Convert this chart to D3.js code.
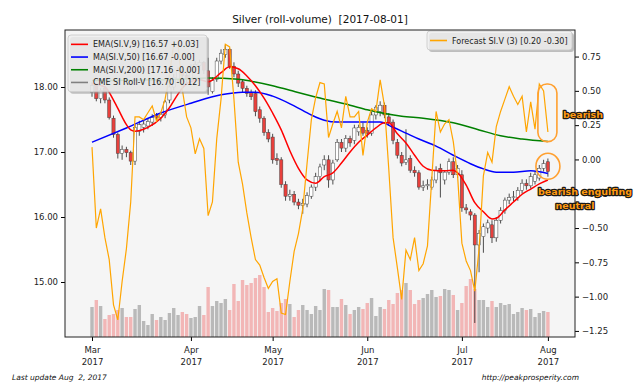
<!DOCTYPE html>
<html>
<head>
<meta charset="utf-8">
<script src="https://cdn.jsdelivr.net/npm/d3@7"></script>
<style>
  body { margin: 0; background: #fff; }
  svg { display: block; }
  text { font-family: "DejaVu Sans", sans-serif; }
</style>
</head>
<body>
<svg id="chart" width="640" height="384"></svg>
<script>
// month ticks sit on the trading-day index of the first session of each month
const monthLabels = ["Mar", "Apr", "May", "Jun", "Jul", "Aug"];
const monthIdx = [0, 23, 42, 64, 86, 106];

// daily candles, one per trading day (Mar 1 .. Aug 1 2017)
const opens = [17.92,18.02,17.82,17.98,17.80,17.52,17.27,16.98,17.04,16.99,
  16.86,17.32,17.38,17.40,17.46,17.56,17.53,17.57,17.80,18.00,
  18.12,18.25,18.18,18.12,18.30,18.33,18.38,18.25,17.93,18.12,
  18.40,18.50,18.58,18.32,18.20,18.08,17.98,17.92,17.90,17.65,
  17.52,17.30,17.23,16.90,16.88,16.50,16.32,16.35,16.23,16.18,
  16.20,16.32,16.46,16.62,16.80,16.88,16.57,16.88,17.15,17.06,
  17.21,17.18,17.31,17.38,17.33,17.29,17.57,17.62,17.72,17.54,
  17.46,17.15,16.95,16.84,16.90,16.72,16.68,16.46,16.48,16.46,
  16.57,16.75,16.57,16.69,16.85,16.65,16.65,16.14,16.08,16.03,
  15.57,15.70,15.83,15.88,15.68,15.95,16.10,16.26,16.30,16.30,
  16.41,16.52,16.48,16.55,16.60,16.75,16.85];
const highs = [18.08,18.05,17.98,18.02,17.84,17.56,17.30,17.10,17.08,17.02,
  17.42,17.48,17.50,17.52,17.58,17.60,17.62,17.80,18.05,18.20,
  18.30,18.30,18.25,18.35,18.40,18.42,18.40,18.45,18.15,18.45,
  18.58,18.65,18.60,18.38,18.25,18.12,18.02,17.96,17.95,17.70,
  17.55,17.35,17.28,16.98,16.92,16.55,16.42,16.40,16.28,16.28,
  16.38,16.50,16.68,16.82,16.95,16.95,16.88,17.20,17.20,17.26,
  17.25,17.42,17.42,17.45,17.38,17.62,17.72,17.78,17.76,17.60,
  17.50,17.20,17.00,17.35,16.95,16.78,16.72,16.56,16.58,16.62,
  16.78,16.82,16.72,16.90,16.92,16.80,16.72,16.20,16.12,16.06,
  15.80,15.90,15.96,15.95,16.00,16.15,16.30,16.36,16.40,16.46,
  16.58,16.58,16.68,16.70,16.80,16.88,16.90];
const lows = [17.85,17.78,17.75,17.75,17.50,17.22,16.90,16.88,16.92,16.80,
  16.80,17.25,17.30,17.35,17.40,17.48,17.47,17.52,17.75,17.95,
  18.08,18.10,18.05,18.10,18.22,18.25,18.20,17.88,17.90,18.08,
  18.35,18.45,18.28,18.15,18.00,17.92,17.85,17.80,17.55,17.45,
  17.25,17.15,16.82,16.80,16.45,16.25,16.25,16.18,16.12,16.05,
  16.15,16.28,16.40,16.55,16.72,16.45,16.50,16.85,17.00,17.00,
  17.08,17.12,17.25,17.25,17.22,17.25,17.50,17.55,17.52,17.40,
  17.12,16.90,16.78,16.80,16.68,16.62,16.42,16.40,16.42,16.42,
  16.52,16.30,16.50,16.65,16.60,16.60,16.08,16.05,15.95,14.37,
  15.15,15.45,15.75,15.60,15.62,15.90,16.05,16.20,16.24,16.25,
  16.36,16.42,16.44,16.50,16.56,16.70,16.62];
const closes = [18.02,17.82,17.95,17.80,17.53,17.27,16.98,17.04,16.99,16.86,
  17.38,17.42,17.43,17.47,17.53,17.53,17.58,17.77,18.00,18.15,
  18.25,18.18,18.12,18.30,18.35,18.38,18.26,18.00,18.10,18.40,
  18.52,18.58,18.32,18.20,18.06,17.98,17.90,17.85,17.62,17.52,
  17.30,17.20,16.88,16.87,16.50,16.32,16.35,16.23,16.18,16.21,
  16.33,16.46,16.62,16.77,16.88,16.57,16.83,17.15,17.06,17.21,
  17.14,17.37,17.38,17.29,17.29,17.57,17.69,17.72,17.57,17.45,
  17.18,16.95,16.83,16.88,16.72,16.68,16.46,16.48,16.50,16.57,
  16.72,16.68,16.69,16.85,16.65,16.75,16.14,16.11,16.03,15.57,
  15.75,15.85,15.91,15.68,15.95,16.10,16.26,16.30,16.31,16.41,
  16.52,16.48,16.62,16.65,16.75,16.82,16.70];

// volume, thousands of contracts
const volume = [60,74,62,36,44,46,54,58,40,40,
  56,64,32,24,46,34,40,34,48,58,
  44,50,46,38,40,62,44,100,62,72,
  68,76,54,106,72,114,104,108,118,124,
  100,50,58,52,68,76,66,40,54,64,
  54,46,62,54,96,94,60,60,76,64,
  46,54,60,56,68,78,42,60,56,74,
  66,88,94,108,94,66,74,78,86,94,
  80,82,96,94,84,54,68,102,116,96,
  74,74,60,72,60,68,64,66,46,50,
  58,54,56,40,48,52,50];

// forecast oscillator (right axis)
const forecast = [0.09,-0.50,-0.36,-0.57,-0.73,-1.06,-1.17,-0.89,-0.65,-0.31,
  0.31,0.31,0.29,0.34,0.39,0.28,0.34,0.44,0.62,0.84,
  0.84,0.51,0.31,0.23,0.04,0.15,0.08,-0.41,-0.31,0.15,
  0.44,0.84,0.82,0.44,-0.02,-0.18,-0.39,-0.57,-0.73,-0.77,
  -0.86,-0.94,-0.89,-0.87,-1.12,-1.13,-0.89,-0.67,-0.54,-0.36,
  -0.03,0.29,0.45,0.56,0.55,0.16,0.26,0.35,0.23,0.46,
  0.31,0.31,0.35,0.03,0.27,0.37,0.35,0.58,0.39,-0.07,
  -0.57,-0.79,-1.02,-0.66,-0.73,-0.57,-0.81,-0.76,-0.63,-0.14,
  0.35,0.20,0.26,0.29,0.13,-0.12,-0.61,-0.74,-0.81,-0.96,
  -0.65,-0.12,0.05,-0.02,0.24,0.35,0.44,0.53,0.46,0.40,
  0.46,0.20,0.42,0.22,0.55,0.50,0.20];

// moving averages as [day index, price]
const ema9 = [[0,18.05],[3,18.0],[5,17.8],[7,17.54],[8,17.42],[9,17.34],[10,17.32],[12,17.35],
  [13,17.38],[16,17.52],[18,17.68],[20,17.89],[22,18.05],[25,18.11],[27,18.08],[30,18.22],
  [32,18.31],[34,18.28],[36,18.17],[38,18.02],[40,17.83],[42,17.6],[44,17.34],[46,17.02],
  [48,16.75],[50,16.57],[52,16.52],[54,16.62],[56,16.68],[58,16.83],[60,17.0],[62,17.15],
  [64,17.26],[66,17.37],[68,17.45],[69,17.45],[71,17.28],[73,17.14],[75,16.95],[77,16.78],
  [79,16.72],[82,16.71],[84,16.72],[85,16.68],[87,16.49],[89,16.22],[91,16.08],[93,15.97],
  [94,15.98],[96,16.11],[98,16.23],[100,16.35],[102,16.43],[104,16.51],[106,16.57]];
const ma50 = [[0,17.15],[8,17.37],[16,17.6],[23,17.75],[30,17.88],[35,17.92],[38,17.92],
  [42,17.86],[47,17.71],[51,17.57],[54,17.49],[57,17.46],[62,17.46],[67,17.46],[70,17.38],
  [73,17.29],[76,17.2],[80,17.09],[84,16.95],[88,16.82],[91,16.74],[94,16.69],[98,16.69],
  [102,16.71],[106,16.67]];
const ma200 = [[0,18.1],[20,18.12],[27,18.14],[34,18.12],[37,18.09],[42,18.02],[46,17.95],
  [53,17.83],[60,17.72],[64,17.65],[72,17.55],[77,17.52],[84,17.45],[90,17.34],[95,17.25],
  [100,17.2],[106,17.16]];

const leftLegend = [
  { label: "EMA(SI.V,9) [16.57 +0.03]", color: "#ff0000" },
  { label: "MA(SI.V,50) [16.67 -0.00]", color: "#0000ff" },
  { label: "MA(SI.V,200) [17.16 -0.00]", color: "#008000" },
  { label: "CME SI Roll-V [16.70 -0.12]", color: "#808080" }
];
const rightLegend = [{ label: "Forecast SI.V (3) [0.20 -0.30]", color: "#ffa500" }];

const svg = d3.select("#chart");
const L = 65, R = 575, T = 30, B = 337;

const x = d3.scaleLinear().domain([-6.28, 112.3]).range([L, R]);
const y = d3.scaleLinear().domain([14.154, 18.877]).range([B, T]);
const yF = d3.scaleLinear().domain([-1.2943, 0.9436]).range([B, T]);
const yV = d3.scaleLinear().domain([0, 614]).range([B, T]);

svg.append("text").attr("x", 320).attr("y", 23).attr("text-anchor", "middle")
  .attr("font-size", 10.5).attr("fill", "#111")
  .text("Silver (roll-volume)\u00a0 [2017-08-01]");

svg.append("rect").attr("x", L).attr("y", T).attr("width", R - L).attr("height", B - T)
  .attr("fill", "#f5f5f5");

svg.append("clipPath").attr("id", "plot")
  .append("rect").attr("x", L).attr("y", T).attr("width", R - L).attr("height", B - T);

const plot = svg.append("g").attr("clip-path", "url(#plot)");

const days = d3.range(opens.length);

// volume bars
plot.append("g").selectAll("rect").data(days).join("rect")
  .attr("x", i => x(i) - 1.7)
  .attr("width", 3.4)
  .attr("y", i => yV(volume[i]))
  .attr("height", i => yV(0) - yV(volume[i]))
  .attr("fill", i => closes[i] < opens[i] ? "#f2b6b6" : "#b9b9b9");

// candles
const candle = plot.append("g").selectAll("g").data(days).join("g");
candle.append("line")
  .attr("x1", i => x(i)).attr("x2", i => x(i))
  .attr("y1", i => y(highs[i])).attr("y2", i => y(lows[i]))
  .attr("stroke", "#222").attr("stroke-width", 0.8);
candle.append("rect")
  .attr("x", i => x(i) - 1.6)
  .attr("width", 3.2)
  .attr("y", i => y(Math.max(opens[i], closes[i])))
  .attr("height", i => Math.max(0.8, Math.abs(y(opens[i]) - y(closes[i]))))
  .attr("fill", i => closes[i] < opens[i] ? "#e8403c" : "#ffffff")
  .attr("stroke", "#444").attr("stroke-width", 0.5);

const priceLine = d3.line().x(d => x(d[0])).y(d => y(d[1])).curve(d3.curveMonotoneX);
plot.append("path").datum(ma200).attr("d", priceLine)
  .attr("fill", "none").attr("stroke", "#008000").attr("stroke-width", 1.5);
plot.append("path").datum(ma50).attr("d", priceLine)
  .attr("fill", "none").attr("stroke", "#0000ff").attr("stroke-width", 1.5);
plot.append("path").datum(ema9).attr("d", priceLine)
  .attr("fill", "none").attr("stroke", "#ff0000").attr("stroke-width", 1.5);

// axes
const axisLeft = d3.axisLeft(y).tickValues([15, 16, 17, 18]).tickFormat(d3.format(".2f")).tickSize(4);
const axisRight = d3.axisRight(yF).tickValues(d3.range(-1.25, 0.76, 0.25)).tickFormat(d3.format(".2f")).tickSize(4);
const axisBottom = d3.axisBottom(x).tickValues(monthIdx).tickFormat("").tickSize(4);

function styleAxis(g) {
  g.select(".domain").remove();
  g.selectAll(".tick line").attr("stroke", "#000");
  g.selectAll(".tick text").attr("font-size", 8.5).attr("fill", "#222")
    .attr("font-family", "DejaVu Sans, sans-serif");
}
svg.append("g").attr("transform", `translate(${L},0)`).call(axisLeft).call(styleAxis);
svg.append("g").attr("transform", `translate(${R},0)`).call(axisRight).call(styleAxis);
const xg = svg.append("g").attr("transform", `translate(0,${B})`).call(axisBottom).call(styleAxis);
xg.selectAll(".tick").each(function (d, k) {
  const t = d3.select(this).append("text").attr("text-anchor", "middle")
    .attr("font-size", 8.5).attr("fill", "#222");
  t.append("tspan").attr("x", 0).attr("y", 16).text(monthLabels[k]);
  t.append("tspan").attr("x", 0).attr("y", 28).text("2017");
});

function legend(items, bx, by, bw, rowH) {
  const g = svg.append("g");
  const bh = items.length * rowH + 6;
  g.append("rect").attr("x", bx + 2).attr("y", by + 2).attr("width", bw).attr("height", bh)
    .attr("rx", 3).attr("fill", "#888").attr("opacity", 0.5);
  g.append("rect").attr("x", bx).attr("y", by).attr("width", bw).attr("height", bh)
    .attr("rx", 3).attr("fill", "#efefef").attr("fill-opacity", 0.82)
    .attr("stroke", "#c8c8c8").attr("stroke-width", 0.8);
  items.forEach((it, k) => {
    const cy = by + 3 + rowH * (k + 0.5);
    g.append("line").attr("x1", bx + 3).attr("x2", bx + 20).attr("y1", cy).attr("y2", cy)
      .attr("stroke", it.color).attr("stroke-width", 1.6);
    g.append("text").attr("x", bx + 25).attr("y", cy + 3).attr("font-size", 8)
      .attr("fill", "#222").text(it.label);
  });
}
legend(leftLegend, 68, 35, 139, 12.7);

// forecast on the twin axis, drawn over the first axes and its legend
plot.append("path").datum(days)
  .attr("d", d3.line().x(i => x(i)).y(i => yF(forecast[i])))
  .attr("fill", "none").attr("stroke", "#ffa500").attr("stroke-width", 1.2);

legend(rightLegend, 427, 31, 145, 13);

svg.append("rect").attr("x", L).attr("y", T).attr("width", R - L).attr("height", B - T)
  .attr("fill", "none").attr("stroke", "#222").attr("stroke-width", 1);

// pattern annotations
const last = opens.length - 1;
svg.append("rect").attr("x", x(last) - 10).attr("y", yF(0.55)).attr("width", 19)
  .attr("height", yF(0.13) - yF(0.55)).attr("rx", 9)
  .attr("fill", "none").attr("stroke", "#ffa030").attr("stroke-width", 1.6);
svg.append("ellipse").attr("cx", x(last)).attr("cy", y(16.78)).attr("rx", 12).attr("ry", 13)
  .attr("fill", "none").attr("stroke", "#ffa030").attr("stroke-width", 1.6);

const notes = [
  { text: "bearish", x: 583, y: 118 },
  { text: "bearish engulfing", x: 585, y: 195 },
  { text: "neutral", x: 575, y: 209 }
];
svg.append("g").selectAll("text").data(notes).join("text")
  .attr("x", d => d.x).attr("y", d => d.y).attr("text-anchor", "middle")
  .attr("font-size", 9.5).attr("font-weight", "bold")
  .attr("fill", "#ff9a10").attr("stroke", "#1a1a1a").attr("stroke-width", 2.4)
  .attr("paint-order", "stroke").attr("stroke-linejoin", "round")
  .text(d => d.text);

svg.append("text").attr("x", 12).attr("y", 380).attr("font-size", 7.5)
  .attr("font-style", "italic").attr("fill", "#111").text("Last update Aug\u00a0 2, 2017");
svg.append("text").attr("x", 579).attr("y", 380).attr("text-anchor", "end").attr("font-size", 7.5)
  .attr("font-style", "italic").attr("fill", "#111").text("http://peakprosperity.com");
</script>
</body>
</html>
